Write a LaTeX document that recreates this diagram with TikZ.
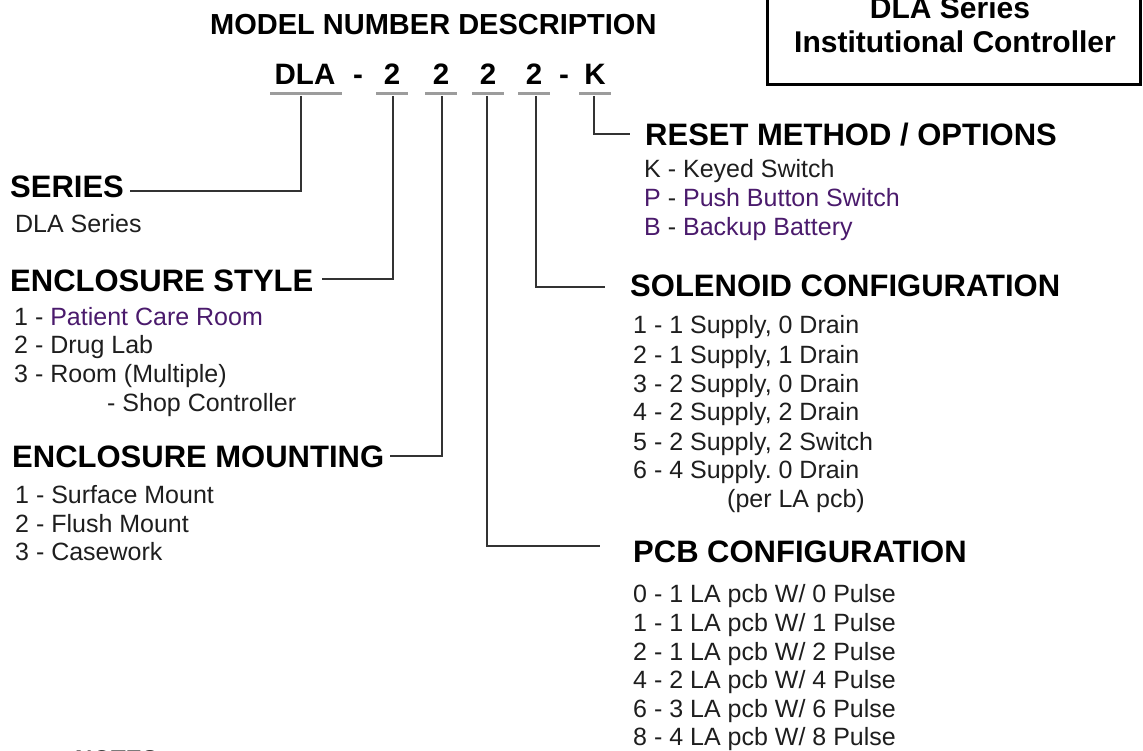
\documentclass[tikz,border=0pt]{standalone}
\usepackage{fontspec}
\setmainfont{Liberation Sans}
\frenchspacing
\definecolor{itemtext}{HTML}{1E1E1E}
\definecolor{itempurple}{HTML}{4A1A6C}
\definecolor{ulgray}{HTML}{9C9C9C}
\tikzset{
  head/.style={anchor=base west,inner sep=0pt,font=\fontsize{31}{34}\selectfont\bfseries},
  item/.style={anchor=base west,inner sep=0pt,text=itemtext,font=\fontsize{25}{28}\selectfont},
  code/.style={anchor=base,inner sep=0pt,font=\fontsize{29.5}{32}\selectfont\bfseries},
  uline/.style={ulgray,line width=3pt},
  lead/.style={black!80,line width=1.6pt},
}
\newcommand{\pu}[1]{\textcolor{itempurple}{#1}}

\begin{document}
\begin{tikzpicture}[x=1pt,y=-1pt]
   \useasboundingbox (0,0) rectangle (1143,751);

   % title and box
   \node[head,font=\fontsize{29}{32}\selectfont\bfseries] (title) at (210,35) {MODEL NUMBER DESCRIPTION};
   \draw[line width=3pt] (767,-10) rectangle (1140,85);
   \node[code,font=\fontsize{30}{34}\selectfont\bfseries] (boxA) at (950,19) {DLA Series};
   \node[code,font=\fontsize{30}{34}\selectfont\bfseries] (boxB) at (955,53) {Institutional Controller};

   % model number
   \node[code] (dla) at (305,85) {DLA};
   \node[code] (dashA) at (358,85) {-};
   \node[code] (style) at (392,85) {2};
   \node[code] (mount) at (441,85) {2};
   \node[code] (pcb) at (488,85) {2};
   \node[code] (sol) at (534,85) {2};
   \node[code] (dashB) at (564,85) {-};
   \node[code] (reset) at (595,85) {K};
   \draw[uline] ([xshift=-35pt,yshift=-9pt]dla.base) -- ([xshift=37pt,yshift=-9pt]dla.base);
   \foreach \n in {style,mount,pcb,sol,reset}
      \draw[uline] ([xshift=-16pt,yshift=-9pt]\n.base) -- ([xshift=16pt,yshift=-9pt]\n.base);

   \coordinate (cSeries) at (301,96);
   \coordinate (cStyle) at (393,96);
   \coordinate (cMount) at (442,96);
   \coordinate (cPcb) at (487,96);
   \coordinate (cSol) at (536,96);
   \coordinate (cReset) at (594,96);

   % left column
   \node[head] (hSeries) at (10,198) {SERIES};
   \node[item] at (15,233) {DLA Series};

   \node[head] (hStyle) at (10,291) {ENCLOSURE STYLE};
   \node[item] at (14,325) {1 - \pu{Patient Care Room}};
   \node[item] at (14,353) {2 - Drug Lab};
   \node[item] at (14,382) {3 - Room (Multiple)};
   \node[item] at (107,411) {- Shop Controller};

   \node[head] (hMount) at (12,467) {ENCLOSURE MOUNTING};
   \node[item] at (15,503) {1 - Surface Mount};
   \node[item] at (15,532) {2 - Flush Mount};
   \node[item] at (15,560) {3 - Casework};

   \node[head,font=\fontsize{24}{28}\selectfont\bfseries] (notes) at (75,767) {NOTES};

   % right column
   \node[head] (hReset) at (645,146) {RESET METHOD / OPTIONS};
   \node[item] at (644,178) {K - Keyed Switch};
   \node[item] at (644,207) {\pu{P} - \pu{Push Button Switch}};
   \node[item] at (644,236) {\pu{B} - \pu{Backup Battery}};

   \node[head] (hSol) at (630,297) {SOLENOID CONFIGURATION};
   \node[item] at (633,334) {1 - 1 Supply, 0 Drain};
   \node[item] at (633,363) {2 - 1 Supply, 1 Drain};
   \node[item] at (633,392) {3 - 2 Supply, 0 Drain};
   \node[item] at (633,420) {4 - 2 Supply, 2 Drain};
   \node[item] at (633,450) {5 - 2 Supply, 2 Switch};
   \node[item] at (633,478) {6 - 4 Supply. 0 Drain};
   \node[item] at (727,507) {(per LA pcb)};

   \node[head] (hPcb) at (633,562) {PCB CONFIGURATION};
   \node[item] at (633,602) {0 - 1 LA pcb W/ 0 Pulse};
   \node[item] at (633,631) {1 - 1 LA pcb W/ 1 Pulse};
   \node[item] at (633,660) {2 - 1 LA pcb W/ 2 Pulse};
   \node[item] at (633,688) {4 - 2 LA pcb W/ 4 Pulse};
   \node[item] at (633,717) {6 - 3 LA pcb W/ 6 Pulse};
   \node[item] at (633,745) {8 - 4 LA pcb W/ 8 Pulse};

   % leaders
   \draw[lead] (cSeries) |- ([xshift=6pt,yshift=7pt]hSeries.base east);
   \draw[lead] (cStyle) |- ([xshift=8pt,yshift=12pt]hStyle.base east);
   \draw[lead] (cMount) |- ([xshift=6pt,yshift=11pt]hMount.base east);
   \draw[lead] (cReset) |- ([xshift=-15pt,yshift=12pt]hReset.base west);
   \draw[lead] (cSol) |- ([xshift=-25pt,yshift=10pt]hSol.base west);
   \draw[lead] (cPcb) |- ([xshift=-33pt,yshift=16pt]hPcb.base west);
\end{tikzpicture}
\end{document}
